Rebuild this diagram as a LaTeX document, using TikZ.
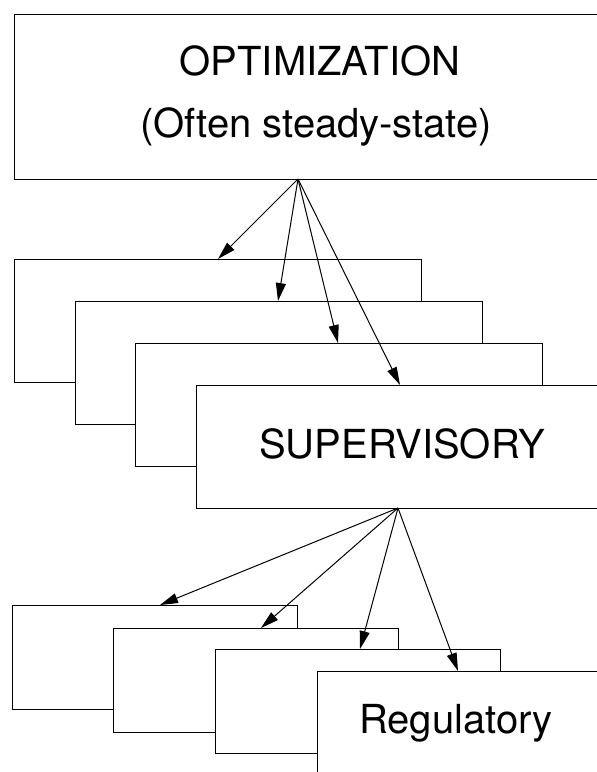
\documentclass[tikz,border=0pt]{standalone}
\usepackage{fontspec}
\setmainfont{TeX Gyre Heros}
\usetikzlibrary{arrows.meta}
\tikzset{
  box/.style={draw, fill=white, line width=1.2pt, anchor=north west, inner sep=0pt},
  midbox/.style={box, minimum width=407pt, minimum height=123pt},
  lowbox/.style={box, minimum width=285pt, minimum height=104pt},
  arr/.style={line width=1pt, -{Triangle[length=18pt,width=10pt]}},
  lbl/.style={anchor=base, inner sep=0pt, font=\fontsize{40}{48}\selectfont}
}
\begin{document}
\begin{tikzpicture}[x=1pt,y=-1pt]
\useasboundingbox (0,0) rectangle (597,772);
% top box
\node[box, minimum width=620pt, minimum height=165pt] (top) at (14,14) {};
\node[lbl] (t1) at (320,75) {OPTIMIZATION};
\node[lbl] (t2) at (316,137) {(Often steady-state)};
% middle boxes
\node[midbox] (m1) at (14,259) {};
\node[midbox] (m2) at (75,301) {};
\node[midbox] (m3) at (135,343) {};
\node[midbox] (m4) at (196,385) {};
\node[lbl] (sup) at (402,458) {SUPERVISORY};
% bottom boxes
\node[lowbox] (b1) at (12,605) {};
\node[lowbox] (b2) at (113,628) {};
\node[lowbox] (b3) at (215,649) {};
\node[lowbox] (b4) at (317,671) {};
\node[lbl] (reg) at (456,733) {Regulatory};
% arrow origins and tips
\coordinate (o1) at (298,179);
\coordinate (a1) at (218,259);
\coordinate (a2) at (278,301);
\coordinate (a3) at (338,343);
\coordinate (a4) at (400,385);
\coordinate (o2) at (398,508);
\coordinate (c1) at (160,605);
\coordinate (c2) at (261,628);
\coordinate (c3) at (360,649);
\coordinate (c4) at (458,671);
\foreach \t in {a1,a2,a3,a4} \draw[arr] (o1) -- (\t);
\foreach \t in {c1,c2,c3,c4} \draw[arr] (o2) -- (\t);
\end{tikzpicture}
\end{document}
